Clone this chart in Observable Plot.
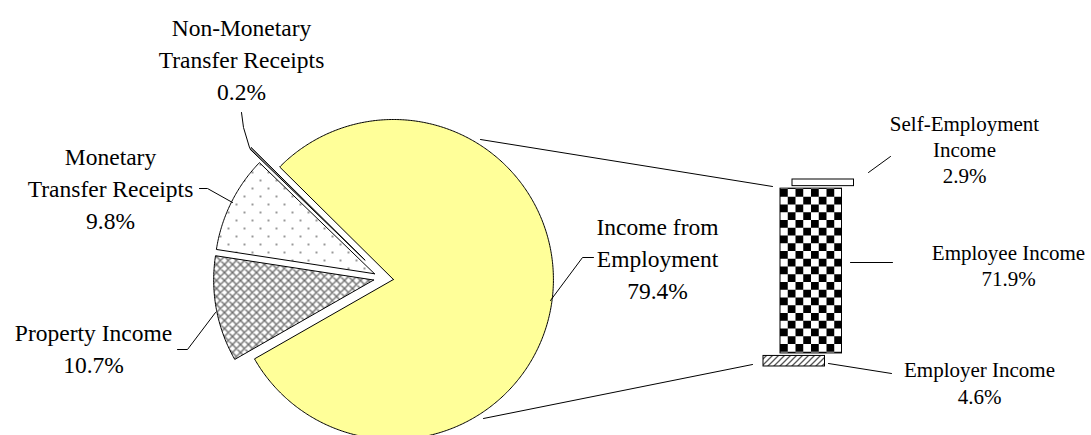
<!DOCTYPE html>
<html><head><meta charset="utf-8">
<script src="https://cdn.jsdelivr.net/npm/d3@7"></script>
<script src="https://cdn.jsdelivr.net/npm/@observablehq/plot@0.6"></script>
<style>body{margin:0;background:#fff} #chart{width:1091px;height:435px}</style>
</head><body>
<svg width="0" height="0" style="position:absolute">
<defs>
 <pattern id="dots" patternUnits="userSpaceOnUse" width="16" height="16">
   <rect width="16" height="16" fill="#fff"/>
   <circle cx="4" cy="4" r="1" fill="#777"/>
   <circle cx="12" cy="12" r="1" fill="#777"/>
 </pattern>
 <pattern id="crosshatch" patternUnits="userSpaceOnUse" width="8" height="8">
   <rect width="8" height="8" fill="#fff"/>
   <path d="M0,0L8,8M8,0L0,8M-1,1L1,-1M7,9L9,7M-1,7L1,9M7,-1L9,1" stroke="#6e6e6e" stroke-width="1.4"/>
 </pattern>
 <pattern id="checker" patternUnits="userSpaceOnUse" x="780" y="189" width="15.5" height="15.5">
   <rect width="15.5" height="15.5" fill="#fff"/>
   <rect width="7.75" height="7.75" fill="#000"/>
   <rect x="7.75" y="7.75" width="7.75" height="7.75" fill="#000"/>
 </pattern>
 <pattern id="hatch" patternUnits="userSpaceOnUse" width="6" height="6">
   <rect width="6" height="6" fill="#fff"/>
   <path d="M0,6L6,0M-1,1L1,-1M5,7L7,5" stroke="#555" stroke-width="1.3"/>
 </pattern>
</defs></svg>
<div id="chart"></div>
<script>
// ---- data ----
const categories = ["Non-Monetary Transfer Receipts", "Monetary Transfer Receipts", "Property Income", "Income from Employment"];
const shares = [0.2, 9.8, 10.7, 79.4];
const pieLabelText = ["Non-Monetary\nTransfer Receipts", "Monetary\nTransfer Receipts", "Property Income", "Income from\nEmployment"];
const barCategories = ["Self-Employment Income", "Employee Income", "Employer Income"];
const barShares = [2.9, 71.9, 4.6];
const barLabelText = ["Self-Employment\nIncome", "Employee Income", "Employer Income"];

// ---- layout / style ----
const pieGeom = {cx: 383, cy: 277.7, r: 160, startDeg: 135.3};
const explode = [26, 10, 10, 10];
const sliceFill = ["#8c8c8c", "url(#dots)", "url(#crosshatch)", "#FFFF99"];
const barGeom = {top: 179, gap: 2.5, k: 2.292, x: [792, 780, 763], w: 61.5};
const barFill = ["#ffffff", "url(#checker)", "url(#hatch)"];
const pieLabelPos = [[241, 57.5], [110, 186], [93, 346], [657, 256.5]];
const barLabelPos = [[964, 148], [1008, 264], [979, 381.5]];
const leaders = [
  [[241,112],[243,127],[249,147]],
  [[199,188],[207,188],[232,202]],
  [[177,349],[187,349],[215,312]],
  [[593,257],[582,257],[550,300]],
  [[480,139],[772,186]],
  [[483,418],[752,364]],
  [[868,172],[890,156]],
  [[850,262],[892,262]],
  [[828,363],[891,373]]
];
const font = "Liberation Serif, Times New Roman, serif";

// ---- pie geometry from values ----
const toD3 = deg => (90 - deg) * Math.PI / 180;
const a0 = toD3(pieGeom.startDeg);
const arcs = d3.pie().sort(null).value(d => d).startAngle(a0).endAngle(a0 - 2 * Math.PI)(shares);
const slices = arcs.map((a, i) => {
  const mid = (a.startAngle + a.endAngle) / 2;
  const ox = pieGeom.cx + explode[i] * Math.sin(mid);
  const oy = pieGeom.cy - explode[i] * Math.cos(mid);
  const n = Math.max(2, Math.ceil(Math.abs(a.endAngle - a.startAngle) / 0.01));
  const pts = [{x: ox, y: oy}];
  for (let j = 0; j <= n; j++) {
    const t = a.startAngle + (a.endAngle - a.startAngle) * j / n;
    pts.push({x: ox + pieGeom.r * Math.sin(t), y: oy - pieGeom.r * Math.cos(t)});
  }
  pts.push({x: ox, y: oy});
  return pts;
});

// ---- bars from values ----
let yCur = barGeom.top;
const bars = barShares.map((v, i) => {
  const h = v * barGeom.k;
  const b = {cat: barCategories[i], x1: barGeom.x[i], x2: barGeom.x[i] + barGeom.w, y1: yCur, y2: yCur + h};
  yCur += h + barGeom.gap;
  return b;
});

const pieLabels = shares.map((v, i) => ({text: pieLabelText[i] + "\n" + v.toFixed(1) + "%", x: pieLabelPos[i][0], y: pieLabelPos[i][1]}));
const barLabels = barShares.map((v, i) => ({text: barLabelText[i] + "\n" + v.toFixed(1) + "%", x: barLabelPos[i][0], y: barLabelPos[i][1]}));
const leaderPts = leaders.flatMap((l, i) => l.map(([x, y]) => ({id: i, x, y})));

const chart = Plot.plot({
  width: 1091, height: 435, margin: 0,
  x: {domain: [0, 1091], range: [0, 1091], axis: null},
  y: {domain: [0, 435], range: [0, 435], axis: null},
  style: {background: "#fff"},
  marks: [
    ...slices.map((pts, i) => Plot.line(pts, {x: "x", y: "y", fill: sliceFill[i], stroke: "#000", strokeWidth: 1, strokeLinejoin: "miter"})),
    ...bars.map((b, i) => Plot.rect([b], {x1: "x1", x2: "x2", y1: "y1", y2: "y2", fill: barFill[i], stroke: "#000", strokeWidth: 1})),
    Plot.line(leaderPts, {x: "x", y: "y", z: "id", stroke: "#000", strokeWidth: 1}),
    Plot.text(pieLabels, {x: "x", y: "y", text: "text", fontSize: 23.5, lineHeight: 1.36, fontFamily: font, fill: "#000", textAnchor: "middle", lineAnchor: "middle"}),
    Plot.text(barLabels, {x: "x", y: "y", text: "text", fontSize: 21, lineHeight: 1.26, fontFamily: font, fill: "#000", textAnchor: "middle", lineAnchor: "middle"})
  ]
});
document.getElementById("chart").appendChild(chart);
</script>
</body></html>
